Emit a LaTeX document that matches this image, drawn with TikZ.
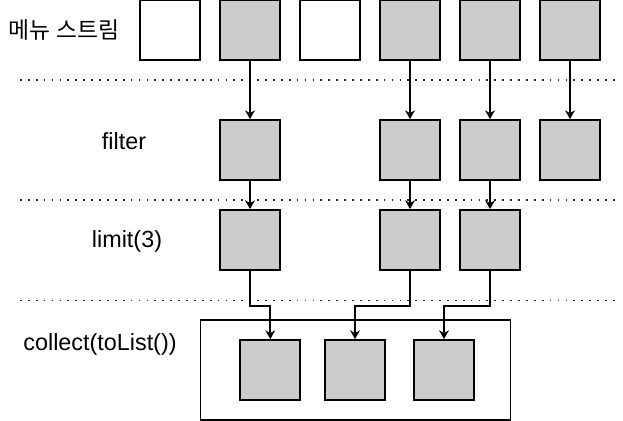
\documentclass[tikz,border=0pt]{standalone}
\usepackage{fontspec}
\setmainfont{Liberation Sans}
\newfontfamily\korFont{Noto Sans CJK KR}
\usepackage{tikz}
\usetikzlibrary{arrows.meta}
\definecolor{boxGrayCol}{RGB}{204, 204, 204}
\tikzset{myBox/.style={draw=black, line width=1pt, minimum width=1.2cm, minimum height=1.2cm, inner sep=0pt}}
\tikzset{myGrayBox/.style={myBox, fill=boxGrayCol}}
\tikzset{myDotLine/.style={line width=1.1pt, color=black!85, dash pattern=on 1pt off 3.5pt}}
\tikzset{myFlow/.style={line width=1pt, -{Stealth[length=5pt,width=5.5pt]}}}
\tikzset{myLabel/.style={font=\fontsize{13.3}{15}\selectfont, inner sep=0pt}}

\begin{document}
\begin{tikzpicture}[x=0.02cm,y=-0.02cm]
	\useasboundingbox (0,0) rectangle (623,421);
	%\draw[help lines, step=1cm](0,0) grid(623,421);

	% labels
	\node[myLabel] (lStream) at (64,30) {\korFont\fontsize{13}{15}\selectfont 메뉴 스트림};
	\node[myLabel] (lFilter) at (124,141) {filter};
	\node[myLabel] (lLimit) at (127,241) {limit(3)};
	\node[myLabel] (lCollect) at (100,344) {collect(toList())};

	% dotted separators
	\draw[myDotLine](20,80)--(616,80);
	\draw[myDotLine](20,200)--(616,200);
	\draw[myDotLine](20,300.5)--(616,300.5);

	% menu stream
	\node[myBox] (s1) at (170,30) {};
	\node[myGrayBox] (s2) at (250,30) {};
	\node[myBox] (s3) at (330,30) {};
	\node[myGrayBox] (s4) at (410,30) {};
	\node[myGrayBox] (s5) at (490,30) {};
	\node[myGrayBox] (s6) at (570,30) {};

	% filter
	\node[myGrayBox] (f2) at (250,150) {};
	\node[myGrayBox] (f4) at (410,150) {};
	\node[myGrayBox] (f5) at (490,150) {};
	\node[myGrayBox] (f6) at (570,150) {};

	% limit(3)
	\node[myGrayBox] (l2) at (250,240) {};
	\node[myGrayBox] (l4) at (410,240) {};
	\node[myGrayBox] (l5) at (490,240) {};

	% collect
	\node[myBox, minimum width=6.2cm, minimum height=2cm] (col) at (355.5,370.3) {};
	\node[myGrayBox] (c1) at (270.3,370) {};
	\node[myGrayBox] (c2) at (355,370) {};
	\node[myGrayBox] (c3) at (444,370) {};

	\foreach \i in {2,4,5,6}
		\draw[myFlow](s\i)--(f\i);
	\foreach \i in {2,4,5}
		\draw[myFlow](f\i)--(l\i);

	\draw[myFlow](l2.south)--++(0,35)-|(c1.north);
	\draw[myFlow](l4.south)--++(0,35)-|(c2.north);
	\draw[myFlow](l5.south)--++(0,35)-|(c3.north);
\end{tikzpicture}
\end{document}
